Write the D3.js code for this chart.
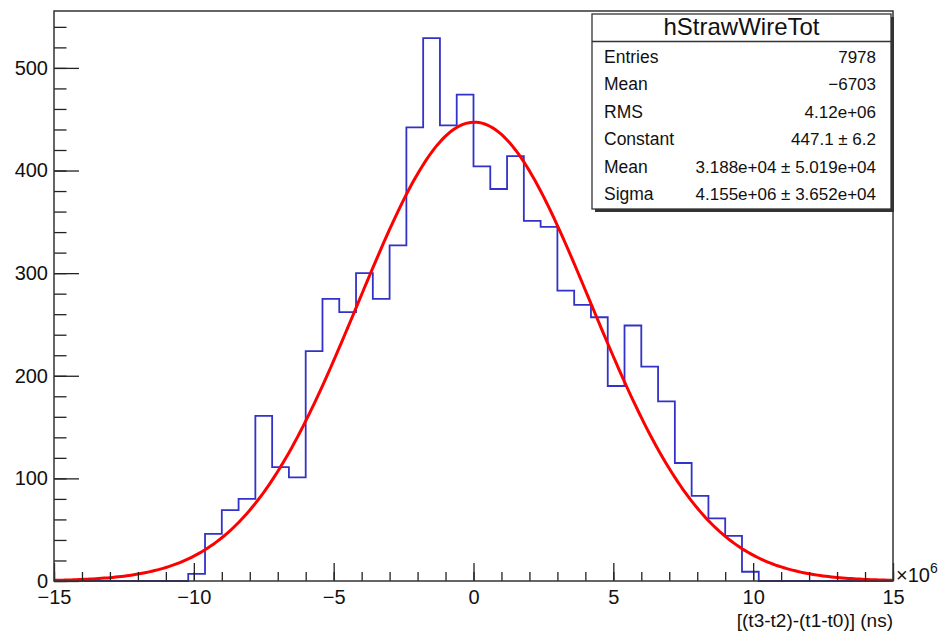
<!DOCTYPE html>
<html>
<head>
<meta charset="utf-8">
<script src="https://cdn.jsdelivr.net/npm/d3@7"></script>
<style>
  body { margin: 0; background: #fff; }
  svg text { font-family: "Liberation Sans", Arial, sans-serif; fill: #111; }
</style>
</head>
<body>
<script>
var width = 941;
var height = 631;

// histogram: 50 bins between -15e6 and 15e6 (axis in units of 1e6 ns)
var xMin = -15, xMax = 15, nBins = 50;
var counts = [0, 0, 0, 0, 0, 0, 0, 0, 7, 46,
              69, 80, 161, 111, 101, 224, 275, 262, 300, 275,
              327, 442, 529, 444, 474, 404, 382, 414, 351, 345,
              283, 269, 257, 190, 249, 209, 175, 115, 83, 61,
              44, 9, 0, 0, 0, 0, 0, 0, 0, 0];

// gaus fit parameters (from stats box)
var fitConstant = 447.1;
var fitMean = 3.188e4 / 1e6;
var fitSigma = 4.155e6 / 1e6;

var xTicks = [-15, -10, -5, 0, 5, 10, 15];
var yTicks = [0, 100, 200, 300, 400, 500];

var statsTitle = "hStrawWireTot";
var statsLabels = ["Entries", "Mean", "RMS", "Constant", "Mean", "Sigma"];
var statsValues = ["7978", "\u22126703", "4.12e+06", "447.1 \u00b1 6.2",
                   "3.188e+04 \u00b1 5.019e+04", "4.155e+06 \u00b1 3.652e+04"];

var padL = 54, padR = 893, padT = 11, padB = 581;

var x = d3.scaleLinear().domain([xMin, xMax]).range([padL, padR]);
var y = d3.scaleLinear().domain([0, d3.max(counts) * 1.05]).range([padB, padT]);

var svg = d3.select("body")
            .append("svg")
            .attr("width", width)
            .attr("height", height);

var binW = (xMax - xMin) / nBins;

// histogram outline as a step path
var pts = [[xMin, 0]];
counts.forEach(function(c, i) {
    pts.push([xMin + i * binW, c]);
    pts.push([xMin + (i + 1) * binW, c]);
});
pts.push([xMax, 0]);

svg.append("path")
   .attr("d", d3.line().x(function(d) { return x(d[0]); }).y(function(d) { return y(d[1]); })(pts))
   .attr("fill", "none")
   .attr("stroke", "#3232c8")
   .attr("stroke-width", 1.8);

// fit curve
var fitX = d3.range(0, 301).map(function(i) { return xMin + i * (xMax - xMin) / 300; });
svg.append("path")
   .datum(fitX)
   .attr("d", d3.line()
        .x(function(d) { return x(d); })
        .y(function(d) { return y(fitConstant * Math.exp(-0.5 * Math.pow((d - fitMean) / fitSigma, 2))); }))
   .attr("fill", "none")
   .attr("stroke", "#ff0000")
   .attr("stroke-width", 3);

// minor ticks
var xMinor = d3.range(xMin, xMax + 1, 1);
svg.append("g")
   .attr("transform", "translate(0," + padB + ")")
   .call(d3.axisBottom(x).tickValues(xMinor).tickSize(-9).tickFormat(""))
   .call(function(g) { g.select(".domain").remove(); });

var yMinor = d3.range(0, 560, 20);
svg.append("g")
   .attr("transform", "translate(" + padL + ",0)")
   .call(d3.axisLeft(y).tickValues(yMinor).tickSize(-12.5).tickFormat(""))
   .call(function(g) { g.select(".domain").remove(); });

// major ticks with labels
var fmt = function(d) { return d < 0 ? "\u2212" + Math.abs(d) : String(d); };

svg.append("g")
   .attr("transform", "translate(0," + padB + ")")
   .call(d3.axisBottom(x).tickValues(xTicks).tickSize(-18).tickPadding(9).tickFormat(fmt))
   .call(function(g) {
       g.select(".domain").remove();
       g.selectAll("text").attr("font-size", 20).attr("fill", "#111");
   });

svg.append("g")
   .attr("transform", "translate(" + padL + ",0)")
   .call(d3.axisLeft(y).tickValues(yTicks).tickSize(-25).tickPadding(6).tickFormat(fmt))
   .call(function(g) {
       g.select(".domain").remove();
       g.selectAll("text").attr("font-size", 20).attr("fill", "#111");
   });

svg.selectAll(".tick line").attr("stroke", "#222").attr("stroke-width", 1.3);

// frame
svg.append("rect")
   .attr("x", padL).attr("y", padT)
   .attr("width", padR - padL).attr("height", padB - padT)
   .attr("fill", "none")
   .attr("stroke", "#333")
   .attr("stroke-width", 1.5);

// x axis title and exponent
svg.append("text")
   .attr("x", padR).attr("y", 627)
   .attr("text-anchor", "end")
   .attr("font-size", 19)
   .text("[(t3-t2)-(t1-t0)] (ns)");

var expo = svg.append("text")
   .attr("x", 896).attr("y", 582)
   .attr("font-size", 20)
   .text("\u00d710");
expo.append("tspan")
   .attr("dy", -9)
   .attr("font-size", 14)
   .text("6");

// stats box
var bx = 592, by = 14, bw = 299, bh = 195;
svg.append("rect")
   .attr("x", bx + 3).attr("y", by + 3)
   .attr("width", bw).attr("height", bh)
   .attr("fill", "#333");
svg.append("rect")
   .attr("x", bx).attr("y", by)
   .attr("width", bw).attr("height", bh)
   .attr("fill", "#fff")
   .attr("stroke", "#333")
   .attr("stroke-width", 1.3);
svg.append("line")
   .attr("x1", bx).attr("x2", bx + bw)
   .attr("y1", 41.5).attr("y2", 41.5)
   .attr("stroke", "#333")
   .attr("stroke-width", 1.3);
svg.append("text")
   .attr("x", bx + bw / 2).attr("y", 35)
   .attr("text-anchor", "middle")
   .attr("font-size", 24)
   .text(statsTitle);

var rowY = d3.scaleLinear().domain([0, 5]).range([62.5, 200]);
svg.selectAll(".slabel")
   .data(statsLabels)
   .enter()
   .append("text")
   .attr("class", "slabel")
   .attr("x", 604)
   .attr("y", function(d, i) { return rowY(i); })
   .attr("font-size", 17.5)
   .text(function(d) { return d; });
svg.selectAll(".svalue")
   .data(statsValues)
   .enter()
   .append("text")
   .attr("class", "svalue")
   .attr("x", 876)
   .attr("y", function(d, i) { return rowY(i); })
   .attr("text-anchor", "end")
   .attr("font-size", 17)
   .text(function(d) { return d; });
</script>
</body>
</html>
